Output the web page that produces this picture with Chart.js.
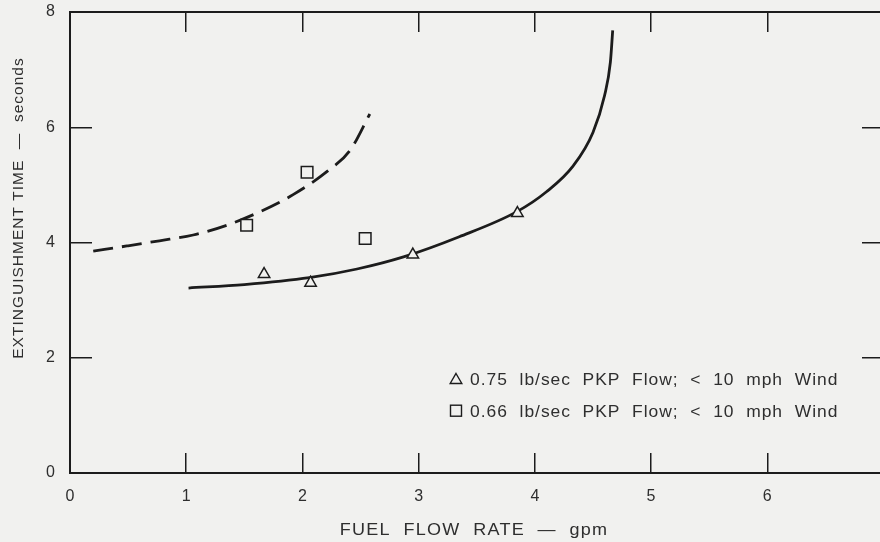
<!DOCTYPE html>
<html>
<head>
<meta charset="utf-8">
<script src="https://cdn.jsdelivr.net/npm/chart.js@4.4.1/dist/chart.umd.min.js"></script>
<style>
  html, body { margin: 0; padding: 0; background: #f1f1ef; }
  #wrap { width: 880px; height: 542px; position: relative; }
</style>
</head>
<body>
<div id="wrap"><canvas id="chart"></canvas></div>
<script>
'use strict';

// Test points
var triX = [1.67, 2.07, 2.95, 3.85];
var triY = [3.45, 3.30, 3.79, 4.51];
var sqX = [1.52, 2.04, 2.54];
var sqY = [4.30, 5.22, 4.07];

// Hand-faired curves (sampled along the drawn lines)
var solidX = [1.02, 1.50, 2.06, 2.47, 2.87, 3.35, 3.85, 4.10, 4.33, 4.50, 4.60, 4.65, 4.67];
var solidY = [3.21, 3.27, 3.39, 3.54, 3.75, 4.10, 4.54, 4.88, 5.33, 5.91, 6.55, 7.13, 7.68];
var dashX = [0.20, 0.49, 0.77, 1.06, 1.35, 1.63, 1.92, 2.21, 2.41, 2.58];
var dashY = [3.85, 3.94, 4.03, 4.13, 4.30, 4.53, 4.83, 5.23, 5.60, 6.23];

var xTicks = [0, 1, 2, 3, 4, 5, 6];
var yTicks = [0, 2, 4, 6, 8];

var legendLabels = [
  '0.75  lb/sec  PKP  Flow;  <  10  mph  Wind',
  '0.66  lb/sec  PKP  Flow;  <  10  mph  Wind'
];
var xTitle = 'FUEL  FLOW  RATE  \u2014  gpm';
var yTitle = 'EXTINGUISHMENT TIME  \u2014  seconds';

var INK = '#1c1c1c';
var TXT = '#2e2e2e';
var BG = '#f1f1ef';
var FONT = '"Liberation Sans", Arial, sans-serif';

function pts(xs, ys) {
  return xs.map(function (x, i) { return { x: x, y: ys[i] }; });
}

function fixedTicks(list) {
  return function (scale) {
    scale.ticks = list.map(function (v) { return { value: v }; });
  };
}

// pin a scale's thickness and drop the label padding it asks the layout for
function pinSize(prop, size) {
  return function (s) {
    s[prop] = size;
    s.paddingTop = s.paddingBottom = s.paddingLeft = s.paddingRight = 0;
  };
}

function stretchedText(ctx, text, x, y, sx, spacing, align) {
  ctx.save();
  ctx.translate(x, y);
  ctx.scale(sx, 1);
  if ('letterSpacing' in ctx) ctx.letterSpacing = spacing + 'px';
  ctx.textAlign = align;
  ctx.textBaseline = 'alphabetic';
  ctx.fillText(text, 0, 0);
  ctx.restore();
}

// Axis titles and the in-plot key, drawn relative to the chart area.
var decorations = {
  id: 'decorations',
  afterDraw: function (chart) {
    var ctx = chart.ctx;
    var a = chart.chartArea;
    ctx.save();
    ctx.fillStyle = TXT;

    ctx.font = '17px ' + FONT;
    stretchedText(ctx, xTitle, (a.left + a.right) / 2 - 1, a.bottom + 62, 1.06, 1.2, 'center');

    ctx.font = '15px ' + FONT;
    ctx.save();
    ctx.translate(23, a.top + 196);
    ctx.rotate(-Math.PI / 2);
    stretchedText(ctx, yTitle, 0, 0, 1.03, 1, 'center');
    ctx.restore();

    // key
    ctx.font = '16px ' + FONT;
    ctx.strokeStyle = INK;
    ctx.lineWidth = 1.4;
    var kx = a.left + 386;
    var rows = [a.top + 373, a.top + 404.5];

    var cy = rows[0] - 6;
    ctx.beginPath();
    ctx.moveTo(kx, cy - 5.5);
    ctx.lineTo(kx + 5.8, cy + 4.5);
    ctx.lineTo(kx - 5.8, cy + 4.5);
    ctx.closePath();
    ctx.stroke();

    cy = rows[1] - 5.8;
    ctx.strokeRect(kx - 5.5, cy - 5.5, 11, 11);

    legendLabels.forEach(function (t, i) {
      stretchedText(ctx, t, kx + 14, rows[i], 1.09, 0.9, 'left');
    });
    ctx.restore();
  }
};

var tickFont = { family: FONT, size: 16 };

new Chart(document.getElementById('chart'), {
  type: 'scatter',
  data: {
    datasets: [
      {
        label: legendLabels[0],
        data: pts(triX, triY),
        pointStyle: 'triangle',
        pointRadius: 6.6,
        borderWidth: 1.5,
        borderColor: INK,
        backgroundColor: BG,
        showLine: false,
        order: 0
      },
      {
        label: legendLabels[1],
        data: pts(sqX, sqY),
        pointStyle: 'rect',
        pointRadius: 8.2,
        borderWidth: 1.5,
        borderColor: INK,
        backgroundColor: BG,
        showLine: false,
        order: 0
      },
      {
        label: 'fit 0.75',
        data: pts(solidX, solidY),
        showLine: true,
        borderColor: INK,
        borderWidth: 2.8,
        pointRadius: 0,
        cubicInterpolationMode: 'monotone',
        order: 1
      },
      {
        label: 'fit 0.66',
        data: pts(dashX, dashY),
        showLine: true,
        borderColor: INK,
        borderWidth: 2.8,
        borderDash: [20, 9],
        pointRadius: 0,
        cubicInterpolationMode: 'monotone',
        order: 1
      }
    ]
  },
  options: {
    animation: false,
    responsive: true,
    maintainAspectRatio: false,
    layout: { padding: 0, autoPadding: false },
    plugins: { legend: { display: false }, tooltip: { enabled: false } },
    scales: {
      x: {
        type: 'linear', position: 'bottom', min: 0, max: 6.97,
        afterBuildTicks: fixedTicks(xTicks),
        afterFit: pinSize('height', 69),
        border: { display: true, color: INK, width: 2 },
        grid: { drawOnChartArea: false, drawTicks: true, tickLength: -20, color: INK, lineWidth: 1.5 },
        ticks: { padding: 34, color: TXT, font: tickFont, maxRotation: 0 }
      },
      xTop: {
        type: 'linear', position: 'top', min: 0, max: 6.97,
        afterBuildTicks: fixedTicks(xTicks),
        afterFit: pinSize('height', 12),
        border: { display: true, color: INK, width: 2 },
        grid: { drawOnChartArea: false, drawTicks: true, tickLength: -20, color: INK, lineWidth: 1.5 },
        ticks: { display: false }
      },
      y: {
        type: 'linear', position: 'left', min: 0, max: 8,
        afterBuildTicks: fixedTicks(yTicks),
        afterFit: pinSize('width', 70),
        border: { display: true, color: INK, width: 2 },
        grid: { drawOnChartArea: false, drawTicks: true, tickLength: -22, color: INK, lineWidth: 1.5 },
        ticks: { padding: 37, color: TXT, font: tickFont }
      },
      yRight: {
        type: 'linear', position: 'right', min: 0, max: 8,
        afterBuildTicks: fixedTicks(yTicks),
        afterFit: pinSize('width', 0),
        border: { display: false },
        grid: { drawOnChartArea: false, drawTicks: true, tickLength: -18, color: INK, lineWidth: 1.5 },
        ticks: { display: false }
      }
    }
  },
  plugins: [decorations]
});
</script>
</body>
</html>
